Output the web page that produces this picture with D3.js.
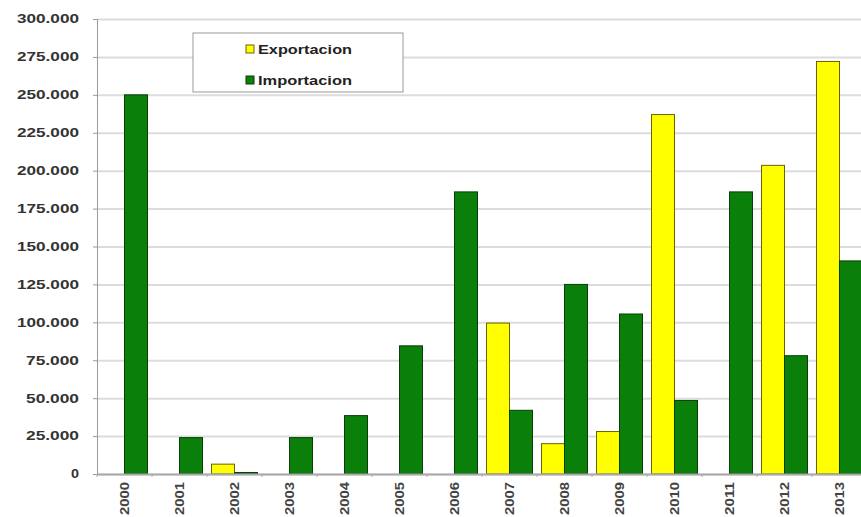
<!DOCTYPE html>
<html>
<head>
<meta charset="utf-8">
<script src="https://cdn.jsdelivr.net/npm/d3@7"></script>
<style>
    body { margin: 0; background: #fff; }
    svg { display: block; font-family: "Liberation Sans", Arial, sans-serif; }
    .grid line { stroke: #dcdcdc; stroke-width: 2; }
    .grid .domain { display: none; }
    .axis text { font-weight: bold; fill: #333; font-size: 12px; }
</style>
</head>
<body>
<div id="chart"></div>
<script>
(function (d3) {

    var years = ['2000', '2001', '2002', '2003', '2004', '2005', '2006',
                 '2007', '2008', '2009', '2010', '2011', '2012', '2013'];

    var exportacion = [0, 0, 6500, 0, 0, 0, 0, 99500, 20000, 28000, 237000, 0, 203500, 272000];
    var importacion = [250000, 24000, 1000, 24000, 38500, 84500, 186000, 42000, 125000, 105500, 48500, 186000, 78000, 140500];

    var yTicks = [0, 25000, 50000, 75000, 100000, 125000, 150000, 175000, 200000, 225000, 250000, 275000, 300000];

    var seriesNames = ['Exportacion', 'Importacion'];
    var colors = { 'Exportacion': '#ffff00', 'Importacion': '#0a7f0a' };
    var strokes = { 'Exportacion': '#6b6200', 'Importacion': '#0b3d0b' };

    var width = 861,
        height = 517;

    var left = 97, top = 19, bottom = 474, right = 867;

    var fmt = function (v) {
        return v === 0 ? '0' : d3.format(',.3f')(v / 1000).replace(/,/g, '');
    };

    var xScale = d3.scaleBand().domain(years).range([left, right]);
    var inner = d3.scaleBand().domain(seriesNames).range([0, 46]);
    var yScale = d3.scaleLinear().domain([0, 300000]).range([bottom, top]);

    var svg = d3.select('#chart')
        .append('svg')
        .attr('width', width)
        .attr('height', height);

    // gridlines
    svg.append('g')
        .attr('class', 'grid')
        .attr('transform', 'translate(' + left + ',0)')
        .call(d3.axisLeft(yScale).tickValues(yTicks).tickSize(-(right - left)).tickFormat(''))
        .selectAll('line')
        .attr('stroke', function (d) { return d === 300000 ? '#c4c4c4' : null; });

    // y axis
    var yAxis = svg.append('g')
        .attr('class', 'axis')
        .attr('transform', 'translate(' + left + ',0)')
        .call(d3.axisLeft(yScale).tickValues(yTicks).tickSize(4).tickPadding(14).tickFormat(fmt));
    yAxis.select('.domain').attr('stroke', '#999');
    yAxis.selectAll('.tick line').attr('stroke', '#999');
    yAxis.selectAll('.tick text')
        .attr('textLength', function (d) { return fmt(d).length * 9 - 1; })
        .attr('lengthAdjust', 'spacingAndGlyphs');

    // bars
    var groups = svg.append('g')
        .selectAll('g')
        .data(years)
        .enter()
        .append('g')
        .attr('transform', function (d) {
            return 'translate(' + (xScale(d) + (xScale.bandwidth() - 46) / 2) + ',0)';
        });

    groups.selectAll('rect')
        .data(function (d, i) {
            return [
                { name: 'Exportacion', value: exportacion[i] },
                { name: 'Importacion', value: importacion[i] }
            ];
        })
        .enter()
        .filter(function (d) { return d.value > 0; })
        .append('rect')
        .attr('x', function (d) { return inner(d.name); })
        .attr('y', function (d) { return yScale(d.value); })
        .attr('width', inner.bandwidth())
        .attr('height', function (d) { return bottom - yScale(d.value); })
        .attr('fill', function (d) { return colors[d.name]; })
        .attr('stroke', function (d) { return strokes[d.name]; })
        .attr('stroke-width', 1);

    // x axis
    var xAxis = svg.append('g')
        .attr('class', 'axis')
        .attr('transform', 'translate(0,' + bottom + ')')
        .call(d3.axisBottom(xScale).tickSize(0).tickPadding(0));
    xAxis.select('.domain').attr('stroke', '#aaa').attr('stroke-width', 2);
    xAxis.selectAll('text')
        .attr('transform', 'rotate(-90)')
        .attr('text-anchor', 'end')
        .attr('x', -8)
        .attr('y', 0)
        .attr('dy', '0.35em')
        .attr('textLength', 33)
        .attr('lengthAdjust', 'spacingAndGlyphs')
        .style('font-size', '13px')
        .style('fill', '#444');

    xAxis.selectAll('.sep')
        .data(years)
        .enter()
        .append('line')
        .attr('x1', function (d) { return xScale(d); })
        .attr('x2', function (d) { return xScale(d); })
        .attr('y1', 0)
        .attr('y2', 3)
        .attr('stroke', '#aaa');

    // legend
    var legend = svg.append('g').attr('transform', 'translate(193,33)');
    legend.append('rect')
        .attr('width', 210)
        .attr('height', 59)
        .attr('fill', '#fff')
        .attr('stroke', '#999')
        .attr('stroke-width', 1);

    seriesNames.forEach(function (name, i) {
        var row = legend.append('g').attr('transform', 'translate(53,' + (16 + i * 31) + ')');
        row.append('rect')
            .attr('x', 0)
            .attr('y', -4)
            .attr('width', 8)
            .attr('height', 8)
            .attr('fill', colors[name])
            .attr('stroke', strokes[name]);
        row.append('text')
            .attr('x', 12)
            .attr('dy', '0.35em')
            .attr('textLength', 94)
            .attr('lengthAdjust', 'spacingAndGlyphs')
            .style('font-size', '13px')
            .style('font-weight', 'bold')
            .attr('fill', '#222')
            .text(name);
    });

})(d3);
</script>
</body>
</html>
